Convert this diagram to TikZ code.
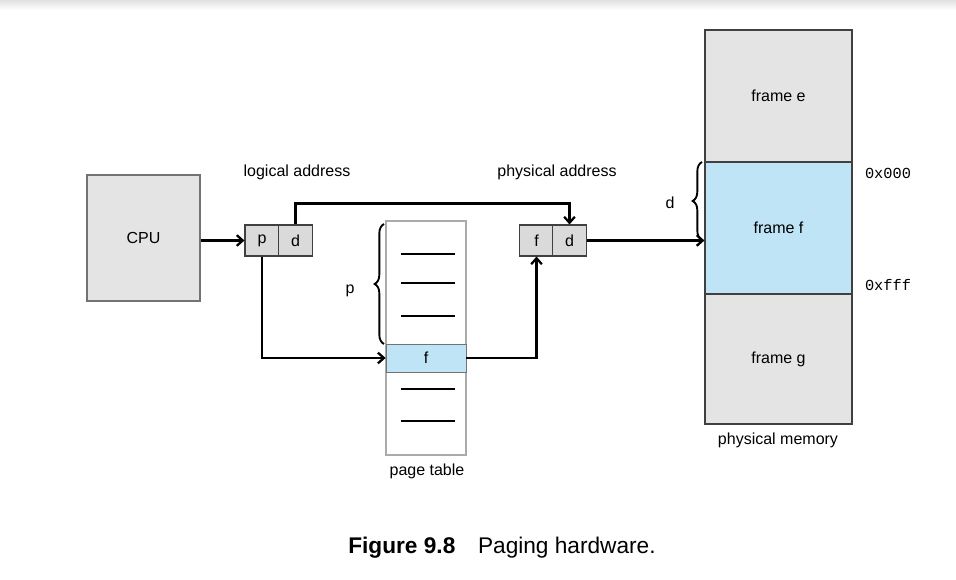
\documentclass[tikz,border=0pt]{standalone}
\usepackage{fontspec}
\setmainfont{Liberation Sans}
\setmonofont{Liberation Mono}
\usetikzlibrary{arrows.meta,decorations.pathreplacing}
\definecolor{boxgray}{RGB}{228,228,228}
\definecolor{cellgray}{RGB}{218,218,218}
\definecolor{pageblue}{RGB}{190,228,245}
\definecolor{rimgray}{RGB}{170,170,170}
\tikzset{
	lbl/.style={font=\fontsize{12}{14}\selectfont},
	cell/.style={draw=black!75, fill=cellgray, line width=0.8pt, inner sep=0pt,
		minimum width=25.5pt, minimum height=23.25pt, font=\fontsize{12}{14}\selectfont},
	frame/.style={draw=black!75, line width=0.9pt, inner sep=0pt,
		minimum width=110.25pt, minimum height=99pt, font=\fontsize{12}{14}\selectfont},
	conn/.style={line width=1.7pt, -{Straight Barb[length=4.5pt,width=8pt]}},
	curly/.style={line width=1.4pt, decorate, decoration={brace, amplitude=7pt}}
}
\begin{document}
\begin{tikzpicture}[x=0.75pt, y=-0.75pt]
	\useasboundingbox (0,0) rectangle (956,580);
	% Schatten oben
	\shade[top color=black!12, bottom color=white] (0,0) rectangle (956,10);
	% CPU
	\node[draw=black!55, fill=boxgray, line width=0.8pt, minimum width=84.75pt,
		minimum height=94.5pt, lbl] (cpu) at (143.5,238) {CPU};
	% logische Adresse
	\node[cell] (p) at (262,240.5) {p};
	\node[cell] (d) at (295.5,240.5) {d};
	\node[lbl] (logical) at (297,172) {logical address};
	% physische Adresse
	\node[cell] (f) at (536.5,240.5) {f};
	\node[cell] (dd) at (569.5,240.5) {d};
	\node[lbl] (physical) at (557,172) {physical address};
	% Seitentabelle
	\node[draw=rimgray, line width=0.9pt, minimum width=60pt, minimum height=175.5pt]
		(table) at (426,338) {};
	\foreach \y in {254,283,316,389,421}
		\draw[line width=0.9pt] (401,\y) -- (455,\y);
	\node[draw=black!55, fill=pageblue, line width=0.6pt, minimum width=60pt,
		minimum height=21pt, inner sep=0pt, lbl] (entry) at (426,358) {f};
	\node[lbl] (tablelabel) at (427,471) {page table};
	\draw[curly] (384,344) -- (384,224);
	\node[lbl] (plabel) at (350,291) {p};
	% physischer Speicher
	\node[frame, fill=boxgray] (framee) at (778.5,96) {frame e};
	\node[frame, fill=pageblue] (framef) at (778.5,228) {frame f};
	\node[frame, fill=boxgray, minimum height=97.5pt] (frameg) at (778.5,359) {frame g};
	\node[lbl] (memlabel) at (778,440) {physical memory};
	\draw[curly] (702,240) -- (702,162);
	\node[lbl] (dlabel) at (670,203) {d};
	\node[font=\ttfamily\fontsize{11.5}{14}\selectfont] (low) at (888,173) {0x000};
	\node[font=\ttfamily\fontsize{11.5}{14}\selectfont] (high) at (888,285) {0xfff};
	% Verbindungen
	\draw[conn] (cpu.east |- p) -- (p.west);
	\draw[conn] (d.north) -- ++(0,-21) -| (dd.north);
	\draw[conn] (p.south) |- (entry.west);
	\draw[conn] (entry.east) -| (f.south);
	\draw[conn] (dd.east) -- (dd.east -| framef.west);
	% Bildunterschrift
	\node[font=\fontsize{17}{20}\selectfont] (caption) at (502,548)
		{\textbf{Figure 9.8}\quad Paging hardware.};
\end{tikzpicture}
\end{document}
